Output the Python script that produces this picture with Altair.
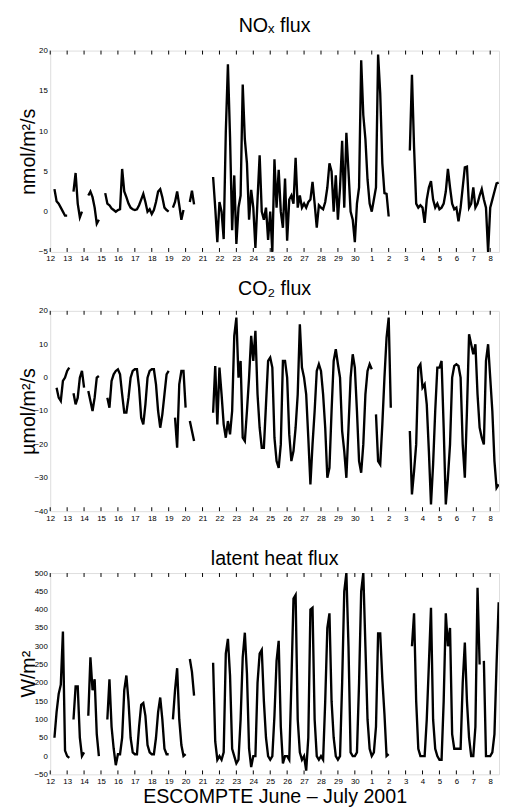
import altair as alt
import pandas as pd

N = None
FONT = "Liberation Sans"

# days: 12..30 = June, 31..38 = 1..8 July ; samples every 3 hours
DAYS = list(range(12, 39))
HOURS = [0, 3, 6, 9, 12, 15, 18, 21]
DAY_LABEL_EXPR = "datum.value > 30 ? datum.value - 30 : datum.value"
X_DOMAIN = [12, 38.52]

NOX_TICKS = [-5, 0, 5, 10, 15, 20]
CO2_TICKS = [-40, -30, -20, -10, 0, 10, 20]
LE_TICKS = [-50, 0, 50, 100, 150, 200, 250, 300, 350, 400, 450, 500]

# NOx flux (nmol/m2/s), one row per day, 8 three-hourly values
NOX = [
    [N, N, 2.8, 1.3, 1.0, 0.5, 0.0, -0.5],        # 12
    [-0.5, N, N, 2.5, 4.8, 1.0, -0.7, 0.0],       # 13
    [N, N, 2.0, 2.5, 1.8, 0.5, -1.5, -1.0],       # 14
    [N, N, 2.3, 1.0, 0.8, 0.4, 0.2, 0.0],         # 15
    [0.2, 0.3, 5.3, 2.5, 1.8, 1.0, 0.5, 0.3],     # 16
    [0.2, 0.3, 0.8, 1.5, 2.2, 1.2, 0.0, 0.3],     # 17
    [-0.3, 0.2, 1.2, 2.5, 2.8, 1.8, 0.5, 0.2],    # 18
    [0.0, N, 0.5, 1.2, 2.5, 0.8, -1.0, 0.2],      # 19
    [N, N, 1.2, 2.6, 0.9, N, N, N],               # 20
    [N, N, N, N, N, 4.3, 0.5, -3.8],              # 21
    [1.2, 0.0, -3.4, 9.9, 18.3, 9.3, -2.3, 4.5],  # 22
    [-4.0, 0.5, 2.0, 15.8, 9.0, 6.0, -1.0, 2.7],  # 23
    [0.5, -4.5, 1.5, 7.0, 0.0, -1.0, 0.5, -3.5],  # 24
    [0.0, -5.0, 6.5, 0.5, 5.2, 0.0, -2.0, 4.1],   # 25
    [-3.6, 1.5, 2.0, 1.0, 6.7, 0.5, 2.0, 0.5],    # 26
    [1.0, 0.5, 1.2, 1.5, 3.7, 1.0, -2.0, 0.8],    # 27
    [0.5, 0.3, 1.2, 3.0, 6.0, 5.0, 0.0, 4.5],     # 28
    [-1.0, 3.0, 8.8, 0.5, 9.8, 5.0, 0.0, -1.0],   # 29
    [-3.8, 1.0, 3.0, 18.8, 12.0, 9.0, 4.0, 1.0],  # 30
    [0.0, 1.5, 3.0, 19.5, 14.7, 6.0, 2.3, 2.2],   # 1 Jul
    [-0.6, N, N, N, N, N, N, N],                  # 2
    [N, N, 7.6, 17.0, 8.0, 1.0, 0.5, 0.8],        # 3
    [0.5, -1.4, 1.5, 3.0, 3.8, 1.5, 0.5, 1.0],    # 4
    [0.3, 0.5, 1.0, 2.5, 5.3, 3.0, 1.0, 0.3],     # 5
    [0.5, -1.2, 0.5, 3.0, 5.5, 5.6, 0.5, 1.0],    # 6
    [3.0, 0.5, 1.0, 2.0, 2.8, 1.5, 0.5, -5.0],    # 7
    [0.5, 1.5, 2.5, 3.5, 3.6, N, N, N],           # 8
]

# CO2 flux (umol/m2/s)
CO2 = [
    [N, N, N, -3.0, -6.0, -7.0, -1.0, 0.0],             # 12
    [2.0, 3.0, N, -4.7, -8.0, -6.0, 0.0, 2.0],          # 13
    [-3.0, N, -4.0, -7.0, -10.0, -6.0, 0.0, 0.5],       # 14
    [N, N, N, -6.0, -9.0, -1.0, 1.0, 2.0],              # 15
    [2.5, 1.0, -5.0, -10.5, -10.5, -6.0, 0.0, 2.0],     # 16
    [2.5, 2.5, -3.0, -12.0, -14.0, -8.0, 0.0, 2.0],     # 17
    [2.5, 2.5, -2.0, -10.0, -15.0, -11.0, -5.0, 1.0],   # 18
    [2.0, N, N, -12.0, -21.0, -2.0, 2.0, 2.0],          # 19
    [-9.0, N, -13.0, -16.0, -19.0, N, N, N],            # 20
    [N, N, N, N, N, -10.5, 3.5, -14.0],                 # 21
    [3.0, -5.0, -14.0, -18.0, -13.0, -17.0, -10.0, 12.5],  # 22
    [18.0, 0.0, 5.0, -18.0, -19.0, -10.0, 0.0, 12.5],   # 23
    [5.0, 14.0, -5.0, -15.0, -21.0, -21.0, -8.0, 5.0],  # 24
    [6.0, 3.0, -18.0, -25.0, -27.0, -20.0, 5.0, 5.0],   # 25
    [0.0, -17.0, -25.0, -22.0, -15.0, -5.0, 16.0, 3.0], # 26
    [0.0, -5.0, -18.0, -32.0, -20.0, -10.0, 2.0, 4.0],  # 27
    [2.0, -5.0, -15.0, -30.0, -27.0, -10.0, 5.0, 8.5],  # 28
    [4.0, 0.0, -16.0, -22.0, -30.0, -15.0, 0.0, 7.0],   # 29
    [3.0, -10.0, -25.0, -28.5, -20.0, -5.0, 2.0, 4.0],  # 30
    [2.5, N, -11.0, -25.0, -26.0, -14.0, 0.0, 12.0],    # 1 Jul
    [18.0, -9.0, N, N, N, N, N, N],                     # 2
    [N, N, -16.0, -35.0, -28.0, -20.0, 3.0, 4.0],       # 3
    [-3.0, -2.0, -8.0, -22.0, -38.0, -26.0, -10.0, 3.0],  # 4
    [3.0, 5.0, -15.0, -38.0, -30.0, -20.0, 0.0, 3.5],   # 5
    [4.0, 3.5, 0.0, -20.0, -30.0, -10.0, 13.0, 10.0],   # 6
    [7.0, 10.0, -5.0, -15.0, -18.0, -20.0, 5.0, 10.0],  # 7
    [0.0, -10.0, -25.0, -33.0, -32.0, N, N, N],         # 8
]

# latent heat flux (W/m2)
LE = [
    [N, N, 50, 120, 170, 195, 340, 15],     # 12
    [0, -5, N, 100, 190, 190, 50, 0],       # 13
    [10, N, 110, 270, 180, 210, 60, 0],     # 14
    [N, N, N, 100, 210, 80, 20, -25],       # 15
    [5, 5, 50, 180, 220, 150, 50, 10],      # 16
    [5, 5, 80, 140, 145, 110, 30, 10],      # 17
    [5, 5, 50, 120, 160, 100, 20, 5],       # 18
    [5, N, 100, 180, 240, 100, 30, 0],      # 19
    [5, N, 265, 230, 165, N, N, N],         # 20
    [N, N, N, N, N, 255, 40, -10],          # 21
    [0, -10, 10, 280, 320, 220, 20, 0],     # 22
    [-20, -10, 100, 270, 337, 225, 20, -30],  # 23
    [0, 0, 200, 280, 290, 150, 50, 0],      # 24
    [-10, 0, 110, 260, 315, 80, -20, 0],    # 25
    [0, -10, 200, 430, 440, 100, 10, -10],  # 26
    [0, -40, 50, 400, 405, 100, 0, -10],    # 27
    [0, -10, 150, 350, 390, 150, 50, 0],    # 28
    [-10, 0, 200, 450, 500, 300, 10, 0],    # 29
    [0, 10, 200, 450, 500, 300, 100, 20],   # 30
    [0, 10, 80, 335, 335, 210, 115, 0],     # 1 Jul
    [5, N, N, N, N, N, N, N],               # 2
    [N, N, N, 300, 390, 150, 20, 0],        # 3
    [0, 0, 100, 250, 405, 100, 20, 0],      # 4
    [-10, -10, 150, 390, 300, 350, 60, 20], # 5
    [20, 20, 20, 200, 310, 150, 50, 0],     # 6
    [0, 80, 460, 250, N, 260, 0, 0],        # 7
    [0, 10, 60, 250, 420, N, N, N],         # 8
]


def to_frame(rows):
    recs = []
    seg = 0
    prev_none = True
    for day, vals in zip(DAYS, rows):
        for h, v in zip(HOURS, vals):
            if v is None:
                if not prev_none:
                    seg += 1
                prev_none = True
                continue
            prev_none = False
            recs.append({"t": day + h / 24.0, "v": v, "seg": seg})
    return pd.DataFrame(recs)


W = 457


def panel(rows, title, title_offset, ytitle, ydomain, yticks, height,
          xtitle=None, xtitle_size=8, xtitle_pad=0):
    df = to_frame(rows)
    xscale = alt.Scale(domain=X_DOMAIN, nice=False, zero=False)
    xaxis = alt.Axis(values=DAYS, labelExpr=DAY_LABEL_EXPR, ticks=False, domain=False,
                     grid=False, labelFontSize=8, labelPadding=3, labelColor="black",
                     labelFont=FONT, labelFlush=False, labelOverlap=False,
                     title=xtitle, titleFontSize=xtitle_size, titlePadding=xtitle_pad,
                     titleFont=FONT, titleFontWeight="normal", titleColor="black")
    yaxis = alt.Axis(values=yticks, ticks=False, domain=False, grid=False,
                     labelFontSize=8, labelPadding=3, labelColor="black", labelFont=FONT,
                     labelFlush=False,
                     title=ytitle, titleFontSize=20, titleFont=FONT, titleFontWeight="normal",
                     titleColor="black", titleX=-16, titleY=height / 2, titleAngle=270,
                     titleBaseline="alphabetic", titleAlign="center")
    xenc = alt.X("t:Q", scale=xscale, axis=xaxis)
    line = alt.Chart(df).mark_line(color="black", strokeWidth=2.4, clip=True).encode(
        x=xenc,
        y=alt.Y("v:Q", scale=alt.Scale(domain=ydomain, nice=False, zero=False), axis=yaxis),
        detail="seg:N",
    )
    tick_df = pd.DataFrame({"t": DAYS})
    top = alt.Chart(tick_df).mark_rule(color="black", strokeWidth=1).encode(
        x=xenc, y=alt.value(0), y2=alt.value(4))
    bot = alt.Chart(tick_df).mark_rule(color="black", strokeWidth=1).encode(
        x=xenc, y=alt.value(height - 4), y2=alt.value(height))
    return alt.layer(line, top, bot).properties(
        width=W, height=height,
        title=alt.TitleParams(text=title, fontSize=20, font=FONT, fontWeight="normal",
                              color="black", offset=title_offset, anchor="middle"),
    )


p1 = panel(NOX, "NOₓ flux", 11, "nmol/m²/s", [-5, 20], NOX_TICKS, 205)
p2 = panel(CO2, "CO₂ flux", 8, "µmol/m²/s", [-40, 20], CO2_TICKS, 204,
           xtitle=" ", xtitle_size=12, xtitle_pad=0)
p3 = panel(LE, "latent heat flux", 0, "W/m²", [-50, 500], LE_TICKS, 205,
           xtitle="ESCOMPTE June – July 2001", xtitle_size=20, xtitle_pad=2)

chart = alt.vconcat(p1, p2, p3, spacing=15).properties(
    padding={"left": 10, "right": 0, "top": 0, "bottom": 0}
).configure_view(stroke="black", strokeWidth=1).configure(background="white")

chart.save("out.html", embed_options={"renderer": "svg", "actions": False})
